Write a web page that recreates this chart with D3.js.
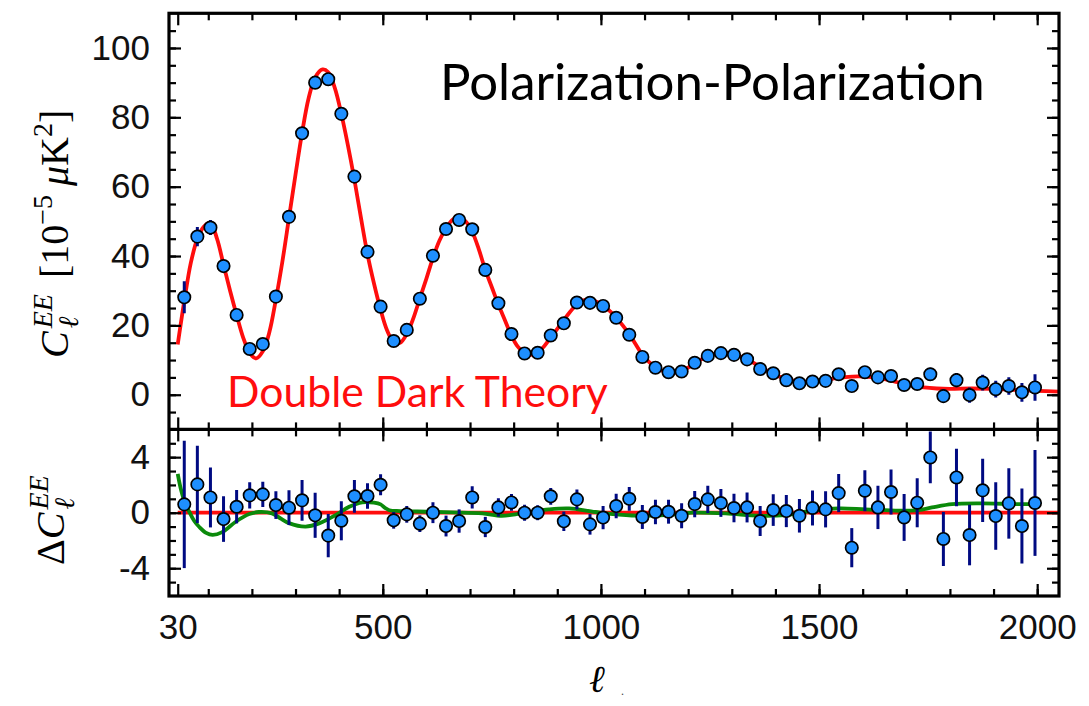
<!DOCTYPE html>
<html><head><meta charset="utf-8">
<script src="https://cdn.jsdelivr.net/npm/d3@7"></script>
<style>body{margin:0;background:#fff} svg{display:block}</style>
</head><body>
<svg id="chart" width="1089" height="706"></svg>
<script>
// ---- data ----
const ell = [45,75,105,135,165,195,225,255,285,315,345,375,405,435,465,495,525,555,585,615,645,675,705,735,765,795,825,855,885,915,945,975,1005,1035,1065,1095,1125,1155,1185,1215,1245,1275,1305,1335,1365,1395,1425,1455,1485,1515,1545,1575,1605,1635,1665,1695,1725,1755,1785,1815,1845,1875,1905,1935,1965,1995];
const ceeData = [28.1,45.6,48.2,37.1,23.0,13.2,14.6,28.3,51.3,75.4,90.0,91.0,81.0,62.9,41.2,25.4,15.5,18.7,27.7,40.1,47.8,50.4,47.7,36.0,26.4,17.5,11.9,12.1,17.1,20.6,26.6,26.5,25.6,22.2,17.3,10.9,7.8,6.5,6.7,9.2,11.2,12.0,11.5,10.2,7.4,6.2,4.2,3.3,3.8,4.0,5.9,2.5,6.5,5.0,5.4,2.8,3.1,5.9,-0.4,4.2,-0.1,3.5,1.6,2.5,0.7,2.1];
const ceeResid = [0.6,2.04,1.10,-0.46,0.43,1.25,1.32,0.55,0.36,0.89,-0.19,-1.65,-0.58,1.18,1.2,2.01,-0.55,-0.12,-0.79,0,-0.96,-0.6,1.1,-1.03,0.38,0.74,0,0,1.18,-0.62,0.96,-0.84,-0.35,0.48,1.0,-0.31,0.05,0.07,-0.22,0.62,0.96,0.7,0.34,0.38,-0.6,0.19,0.12,-0.22,0.34,0.24,1.41,-2.52,1.58,0.38,1.49,-0.34,0.72,3.98,-1.89,2.54,-1.61,1.61,-0.24,0.67,-0.96,0.7];
const ceeErr = [4.59,2.79,2.16,1.64,1.2,0.94,0.91,1.0,1.25,1.47,1.62,1.56,1.41,1.18,0.92,0.76,0.6,0.6,0.6,0.75,0.75,0.84,0.8,0.73,0.66,0.6,0.58,0.54,0.6,0.7,0.72,0.74,0.84,0.88,0.86,0.86,0.88,0.86,0.9,0.95,0.98,1.0,1.03,1.08,1.08,1.14,1.16,1.21,1.26,1.3,1.37,1.41,1.47,1.56,1.62,1.69,1.77,1.86,1.95,2.07,2.18,2.28,2.43,2.54,2.7,3.81];

const theoryEll = [30,45,60,75,90,105,120,135,150,165,180,195,210,225,240,255,270,285,300,315,330,345,362,375,390,405,420,435,450,465,480,495,510,525,540,555,570,585,600,615,630,645,660,672,690,705,720,735,750,765,780,795,810,825,840,855,870,885,900,915,930,945,960,975,990,1005,1020,1035,1050,1065,1080,1095,1110,1125,1140,1155,1170,1185,1200,1215,1230,1245,1260,1280,1300,1320,1335,1350,1365,1380,1395,1410,1425,1440,1455,1470,1485,1500,1530,1560,1590,1620,1650,1680,1710,1740,1770,1800,1850,1900,1950,2000,2050];
const theoryVal = [14.5,27,38,45,48.5,49.5,45,37.5,30,23,16.5,12,10.5,12.5,18,27.5,38.5,51,63.5,75.5,85.5,91.5,93.8,93,88.5,81,72,62,51,40.5,32,24.5,18.5,15.2,15,17.5,22,27.8,33.5,39.5,44.5,48,50.5,51.2,50,47,42,36,31,26,21.5,17,13.8,12,11.5,12.2,14,16.5,19,21.5,24,26,27.2,27.4,26.8,25.7,24.2,22.3,20,17.5,14.5,11.5,9.5,8,7,6.5,6.4,6.8,7.8,9,10.2,11.1,11.8,12.1,11.8,11,10.3,9.2,8,7,6,5.2,4.6,4.1,3.9,3.8,3.9,4.1,4.6,5.1,5.3,5.1,4.5,3.6,2.7,2.1,1.8,1.7,1.8,1.7,1.4,1.1,0.9];

const diffEll = [30,38,48,56,68,80,95,110,132,163,194,216,246,265,285,323,354,392,423,453,480,495,505,515,540,600,660,728,773,818,881,927,988,1071,1148,1209,1286,1362,1423,1484,1545,1606,1683,1728,1759,1805,1874,1950,2000];
const diffVal = [2.8,1.6,0.6,0.1,-0.6,-1.05,-1.45,-1.6,-1.4,-0.65,-0.1,0.05,-0.05,-0.4,-0.75,-1.0,-0.77,-0.17,0.43,0.75,0.72,0.6,0.35,0.18,0.12,0.07,0.02,-0.05,-0.22,-0.05,0.24,0.31,0.05,-0.2,-0.17,0,-0.05,-0.22,-0.17,0.14,0.31,0.24,0.14,0.19,0.38,0.62,0.67,0.62,0.62];

const xTickLabels = [30,500,1000,1500,2000];
const topTickLabels = [0,20,40,60,80,100];
const botTickLabels = [-4,0,4];

// ---- layout ----
const svg = d3.select("#chart");
const L = 169, R = 1059, T = 13.3, M = 429.4, B = 596;
const x = d3.scaleLinear().domain([10, 2050]).range([L, R]);
const yTop = d3.scaleLinear().domain([-10, 110]).range([M, T]);
const yBot = d3.scaleLinear().domain([-6, 6]).range([B, M]);

const RED = "#ff0d0d", GREEN = "#0b8a0b", NAVY = "#000a82", BLUE = "#1e8fff";

const defs = svg.append("defs");
defs.append("clipPath").attr("id","clipTop").append("rect").attr("x",L).attr("y",T).attr("width",R-L).attr("height",M-T);
defs.append("clipPath").attr("id","clipBot").append("rect").attr("x",L).attr("y",M).attr("width",R-L).attr("height",B-M);

const pts = ell.map((l,i)=>({l, v:ceeData[i], r:ceeResid[i], e:ceeErr[i]}));

// top panel
const gTop = svg.append("g").attr("clip-path","url(#clipTop)");
const theory = theoryEll.map((l,i)=>[l, theoryVal[i]]);
gTop.append("path").datum(theory)
  .attr("fill","none").attr("stroke",RED).attr("stroke-width",3.8)
  .attr("d", d3.line().x(d=>x(d[0])).y(d=>yTop(d[1])).curve(d3.curveCatmullRom.alpha(0.5)));
gTop.selectAll("line.err").data(pts).join("line").attr("class","err")
  .attr("x1",d=>x(d.l)).attr("x2",d=>x(d.l))
  .attr("y1",d=>yTop(d.v-d.e)).attr("y2",d=>yTop(d.v+d.e))
  .attr("stroke",NAVY).attr("stroke-width",3);
gTop.selectAll("circle").data(pts).join("circle")
  .attr("cx",d=>x(d.l)).attr("cy",d=>yTop(d.v)).attr("r",6.2)
  .attr("fill",BLUE).attr("stroke","#000").attr("stroke-width",1.7);

// bottom panel
const gBot = svg.append("g").attr("clip-path","url(#clipBot)");
gBot.append("line").attr("x1",x(30)).attr("x2",R).attr("y1",yBot(0)).attr("y2",yBot(0))
  .attr("stroke",RED).attr("stroke-width",3.8);
const diff = diffEll.map((l,i)=>[l, diffVal[i]]);
gBot.append("path").datum(diff)
  .attr("fill","none").attr("stroke",GREEN).attr("stroke-width",3.8)
  .attr("d", d3.line().x(d=>x(d[0])).y(d=>yBot(d[1])).curve(d3.curveCatmullRom.alpha(0.5)));
gBot.selectAll("line.err").data(pts).join("line").attr("class","err")
  .attr("x1",d=>x(d.l)).attr("x2",d=>x(d.l))
  .attr("y1",d=>yBot(d.r-d.e)).attr("y2",d=>yBot(d.r+d.e))
  .attr("stroke",NAVY).attr("stroke-width",3);
gBot.selectAll("circle").data(pts).join("circle")
  .attr("cx",d=>x(d.l)).attr("cy",d=>yBot(d.r)).attr("r",6.2)
  .attr("fill",BLUE).attr("stroke","#000").attr("stroke-width",1.7);

// ticks
function ticks(axis, tx, ty){
  const g = svg.append("g").attr("transform",`translate(${tx},${ty})`).call(axis);
  g.select(".domain").remove();
  g.selectAll("line").attr("stroke","#000").attr("stroke-width",2.2);
  g.selectAll("text").remove();
  return g;
}
const xMinor = d3.range(100, 2001, 100);
const topMinor = d3.range(-5, 110, 5);
const botMinor = d3.range(-5, 6, 1);
const SM = 7, LG = 12;
[[d3.axisBottom, T],[d3.axisTop, M],[d3.axisBottom, M],[d3.axisTop, B]].forEach(([ax,yy])=>{
  ticks(ax(x).tickValues(xMinor).tickSize(SM), 0, yy);
  ticks(ax(x).tickValues(xTickLabels).tickSize(LG), 0, yy);
});
ticks(d3.axisRight(yTop).tickValues(topMinor).tickSize(SM), L, 0);
ticks(d3.axisRight(yTop).tickValues(topTickLabels).tickSize(LG), L, 0);
ticks(d3.axisLeft(yTop).tickValues(topMinor).tickSize(SM), R, 0);
ticks(d3.axisLeft(yTop).tickValues(topTickLabels).tickSize(LG), R, 0);
ticks(d3.axisRight(yBot).tickValues(botMinor).tickSize(SM), L, 0);
ticks(d3.axisRight(yBot).tickValues(botTickLabels).tickSize(LG), L, 0);
ticks(d3.axisLeft(yBot).tickValues(botMinor).tickSize(SM), R, 0);
ticks(d3.axisLeft(yBot).tickValues(botTickLabels).tickSize(LG), R, 0);

// frames
svg.append("rect").attr("x",L).attr("y",T).attr("width",R-L).attr("height",B-T)
  .attr("fill","none").attr("stroke","#000").attr("stroke-width",3.2);
svg.append("line").attr("x1",L).attr("x2",R).attr("y1",M).attr("y2",M)
  .attr("stroke","#000").attr("stroke-width",3.2);

// tick labels
function labels(axis, tx, ty, size){
  const g = svg.append("g").attr("transform",`translate(${tx},${ty})`).call(axis);
  g.select(".domain").remove();
  g.selectAll("line").remove();
  g.selectAll("text").attr("font-family","'Liberation Sans', Arial, sans-serif")
    .attr("font-size",size).attr("fill","#111");
  return g;
}
labels(d3.axisLeft(yTop).tickValues(topTickLabels).tickSize(0).tickPadding(19), L, 0, 35);
labels(d3.axisLeft(yBot).tickValues(botTickLabels).tickSize(0).tickPadding(19)
  .tickFormat(d => d < 0 ? "-" + Math.abs(d) : String(d)), L, 0, 35);
labels(d3.axisBottom(x).tickValues(xTickLabels).tickSize(0).tickPadding(18)
  .tickFormat(d3.format("d")), 0, B, 35);

// annotations
function fitText(sel, target){
  const w = sel.node().getComputedTextLength();
  const fs = parseFloat(sel.attr("font-size"));
  sel.attr("font-size", fs * target / w);
}
const title = svg.append("text").attr("x",440).attr("y",100)
  .attr("font-family","Lato, 'Open Sans', sans-serif").attr("font-size",52).attr("fill","#000")
  .text("Polarization-Polarization");
fitText(title, 545);
const ddt = svg.append("text").attr("x",227).attr("y",407)
  .attr("font-family","Lato, 'Open Sans', sans-serif").attr("font-size",42).attr("fill",RED)
  .text("Double Dark Theory");
fitText(ddt, 381);

// axis titles
const SERIF = "'Liberation Serif', 'DejaVu Serif', serif";
const MAIN = 40, SCR = 28;
function mathLabel(tx, ty, build){
  const g = svg.append("g").attr("transform",`translate(${tx},${ty}) rotate(-90)`);
  const t = g.append("text").attr("font-family",SERIF).attr("font-size",MAIN).attr("fill","#000");
  build(t);
}
function supsub(t){
  const sup = t.append("tspan").attr("font-size",SCR).attr("font-style","italic").attr("dx",3).attr("dy",-16).text("EE");
  const w = sup.node().getComputedTextLength();
  const sub = t.append("tspan").attr("font-size",SCR).attr("font-style","italic").attr("dx",-w).attr("dy",26).text("ℓ");
  return w - sub.node().getComputedTextLength();
}
mathLabel(68, 358, t=>{
  t.append("tspan").attr("font-style","italic").text("C");
  const rest = supsub(t);
  t.append("tspan").attr("dx", rest + 16).attr("dy",-10).text("[10");
  t.append("tspan").attr("font-size",SCR).attr("dy",-16).text("−5");
  t.append("tspan").attr("dx",9).attr("dy",16).attr("font-style","italic").text("μ");
  t.append("tspan").text("K");
  t.append("tspan").attr("font-size",SCR).attr("dy",-16).text("2");
  t.append("tspan").attr("dy",16).text("]");
});
mathLabel(64, 565, t=>{
  t.append("tspan").text("Δ");
  t.append("tspan").attr("font-style","italic").text("C");
  supsub(t);
});
svg.append("text").attr("x",597).attr("y",692).attr("text-anchor","middle")
  .attr("font-family",SERIF).attr("font-style","italic").attr("font-size",38).attr("fill","#000").text("ℓ");
svg.append("text").attr("x",621).attr("y",695)
  .attr("font-family",SERIF).attr("font-size",12).attr("fill","#444").text(".");
</script>
</body></html>
